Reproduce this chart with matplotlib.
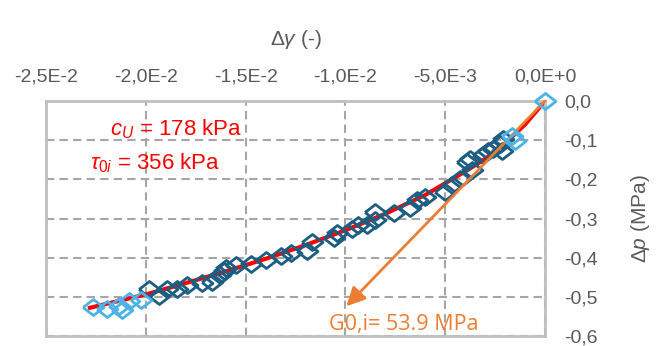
import matplotlib
matplotlib.use("Agg")
import matplotlib.pyplot as plt

plt.rcParams['font.family'] = ['Liberation Sans', 'DejaVu Sans']
plt.rcParams['mathtext.fontset'] = 'custom'
plt.rcParams['mathtext.rm'] = 'Liberation Sans'
plt.rcParams['mathtext.it'] = 'Liberation Sans:italic'

# measured points, first/last stages (light blue)
light_x = [0.0, -0.00150, -0.00167, -0.02025, -0.02084, -0.02134, -0.02120, -0.02192, -0.02267]
light_y = [0.0, -0.101, -0.089, -0.508, -0.511, -0.523, -0.533, -0.532, -0.527]

# measured points, main stage (dark blue)
dark_x = [-0.00209, -0.00217, -0.00225, -0.00259, -0.00284, -0.00309, -0.00375, -0.00392,
          -0.00367, -0.00425, -0.00467, -0.00500, -0.00600, -0.00642, -0.00675, -0.00759,
          -0.00850, -0.00850, -0.00892, -0.00935, -0.00967, -0.01042, -0.01059, -0.01167,
          -0.01192, -0.01275, -0.01325, -0.01400, -0.01475, -0.01550, -0.01600, -0.01609,
          -0.01629, -0.01667, -0.01717, -0.01792, -0.01842, -0.01895, -0.01934, -0.01984]
dark_y = [-0.097, -0.127, -0.110, -0.122, -0.127, -0.139, -0.148, -0.156,
          -0.177, -0.198, -0.215, -0.232, -0.245, -0.253, -0.274, -0.285,
          -0.283, -0.304, -0.317, -0.317, -0.327, -0.338, -0.350, -0.359,
          -0.382, -0.387, -0.397, -0.405, -0.416, -0.418, -0.426, -0.435,
          -0.443, -0.463, -0.464, -0.471, -0.481, -0.481, -0.498, -0.481]

# fitted curve (red)
fit_x = [0.0, -0.001, -0.002, -0.003, -0.004, -0.006, -0.008, -0.010, -0.012,
         -0.014, -0.016, -0.018, -0.020, -0.0228]
fit_y = [0.0, -0.060, -0.108, -0.148, -0.180, -0.240, -0.288, -0.330, -0.368,
         -0.403, -0.435, -0.465, -0.494, -0.528]

# initial shear modulus tangent (orange arrow)
g0_start = (0.0, 0.0)
g0_end = (-0.00995, -0.524)

xticks = [-0.025, -0.020, -0.015, -0.010, -0.005, 0.0]
xticklabels = ['-2,5E-2', '-2,0E-2', '-1,5E-2', '-1,0E-2', '-5,0E-3', '0,0E+0']
yticks = [0.0, -0.1, -0.2, -0.3, -0.4, -0.5, -0.6]
yticklabels = ['0,0', '-0,1', '-0,2', '-0,3', '-0,4', '-0,5', '-0,6']

grey = '#595959'
# the source picture is stretched sideways, so the diamonds are wider than tall
wide_diamond = [(-1.3, 0), (0, 1), (1.3, 0), (0, -1), (-1.3, 0)]

fig = plt.figure(figsize=(6.59, 3.46), dpi=100)
ax = fig.add_axes([46 / 659, 10 / 346, 499 / 659, 235 / 346])

ax.plot(fit_x, fit_y, color='#ff0000', lw=3, zorder=2)
ax.plot(dark_x, dark_y, ls='none', marker=wide_diamond, ms=15, mfc='none', mec='#1b5e82',
        mew=2, zorder=3)
ax.plot(light_x, light_y, ls='none', marker=wide_diamond, ms=15, mfc='none', mec='#4bb3e6',
        mew=2, zorder=5, clip_on=False)
ax.annotate('', xy=g0_end, xytext=g0_start,
            arrowprops=dict(arrowstyle='-|>', color='#ed7d31', lw=2, mutation_scale=28,
                            shrinkA=0, shrinkB=0), zorder=4)

ax.text(-0.0218, -0.072, '$c_U$ = 178 kPa', color='#ff0000', fontsize=16, va='center')
ax.text(-0.0228, -0.160, r'$\tau_{0i}$ = 356 kPa', color='#ff0000', fontsize=16, va='center')
ax.text(-0.0108, -0.570, 'G0,i= 53.9 MPa', color='#ed7d31', fontsize=15.5, va='center',
        family=['Open Sans'])

ax.set_xlim(-0.025, 0.0)
ax.set_ylim(-0.6, 0.0)
ax.xaxis.tick_top()
ax.xaxis.set_label_position('top')
ax.yaxis.tick_right()
ax.yaxis.set_label_position('right')
ax.set_xticks(xticks)
ax.set_xticklabels(xticklabels)
ax.set_yticks(yticks)
ax.set_yticklabels(yticklabels)
ax.tick_params(length=0, labelsize=14, colors=grey)
ax.tick_params(axis='x', pad=11)
ax.tick_params(axis='y', pad=14)
ax.set_xlabel(r'$\mathit{Δγ}$ (-)', fontsize=15, color=grey, labelpad=17)
ax.set_ylabel(r'$\mathit{Δp}$ (MPa)', fontsize=15, color=grey, labelpad=22)

ax.grid(True, ls=(0, (4, 2.5)), color='#a6a6a6', lw=1.5)
for s in ax.spines.values():
    s.set_color('#bfbfbf')
    s.set_linewidth(2)

fig.savefig('out.png', dpi=100)
